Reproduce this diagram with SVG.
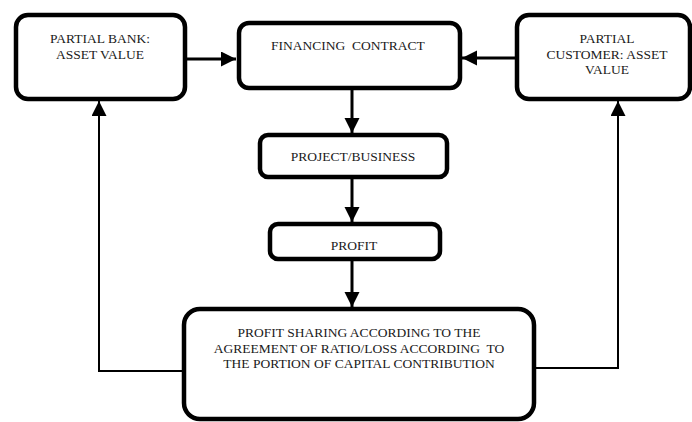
<svg xmlns="http://www.w3.org/2000/svg" width="692" height="422" viewBox="0 0 692 422">
<style>
.box{fill:#fff;stroke:#000;stroke-width:4.5}
.t{font-family:"Liberation Serif","Times New Roman",serif;font-size:13.5px;fill:#1a1a1a;text-anchor:middle;white-space:pre}
.c{fill:none;stroke:#000;stroke-width:3}
.f{fill:none;stroke:#000;stroke-width:2}
</style>
<defs>
<marker id="ah" markerUnits="userSpaceOnUse" markerWidth="16" markerHeight="16" refX="15" refY="7.5" orient="auto">
<path d="M0,0 L15,7.5 L0,15 z" fill="#000"/>
</marker>
</defs>
<g id="connectors">
<line class="c" x1="187" y1="59" x2="236" y2="59" marker-end="url(#ah)"/>
<line class="c" x1="515" y1="58" x2="462" y2="58" marker-end="url(#ah)"/>
<line class="c" x1="352" y1="90" x2="352" y2="133" marker-end="url(#ah)"/>
<line class="c" x1="352" y1="178" x2="352" y2="222" marker-end="url(#ah)"/>
<line class="c" x1="352" y1="260" x2="352" y2="307" marker-end="url(#ah)"/>
<polyline class="f" points="182,371 99,371 99,101" marker-end="url(#ah)"/>
<polyline class="f" points="535,368 618,368 618,101" marker-end="url(#ah)"/>
</g>
<g id="bank">
<rect class="box" x="16" y="15" width="169" height="84" rx="12"/>
<text class="t" x="100" y="43">PARTIAL BANK:</text>
<text class="t" x="100" y="59">ASSET VALUE</text>
</g>
<g id="financing">
<rect class="box" x="239" y="23" width="221" height="65" rx="10"/>
<text class="t" x="348" y="50" xml:space="preserve">FINANCING  CONTRACT</text>
</g>
<g id="customer">
<rect class="box" x="517" y="15" width="173" height="84" rx="12"/>
<text class="t" x="607" y="43">PARTIAL</text>
<text class="t" x="607" y="58.5">CUSTOMER: ASSET</text>
<text class="t" x="607" y="74">VALUE</text>
</g>
<g id="project">
<rect class="box" x="260" y="135" width="187" height="42" rx="8"/>
<text class="t" x="353" y="161">PROJECT/BUSINESS</text>
</g>
<g id="profit">
<rect class="box" x="270" y="224" width="170" height="35" rx="8"/>
<text class="t" x="354" y="250">PROFIT</text>
</g>
<g id="sharing">
<rect class="box" x="184" y="309" width="350" height="110" rx="16"/>
<text class="t" x="359" y="337">PROFIT SHARING ACCORDING TO THE</text>
<text class="t" x="359" y="352.5" xml:space="preserve">AGREEMENT OF RATIO/LOSS ACCORDING  TO</text>
<text class="t" x="359" y="368">THE PORTION OF CAPITAL CONTRIBUTION</text>
</g>
</svg>
